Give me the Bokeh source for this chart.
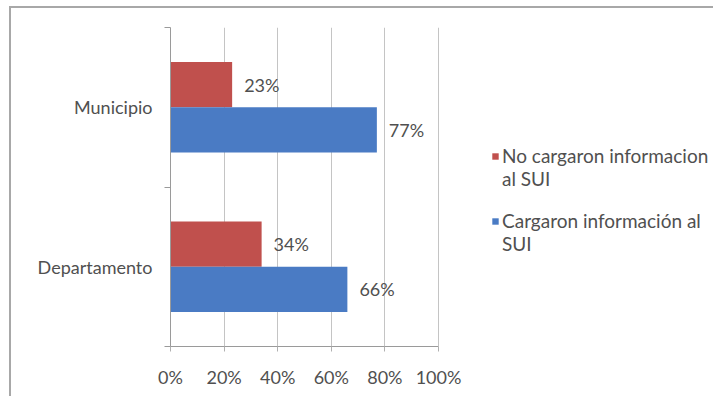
from bokeh.plotting import figure
from bokeh.models import (Range1d, FixedTicker, ColumnDataSource,
                          Legend, LegendItem, NumeralTickFormatter)
from bokeh.transform import dodge
from bokeh.core.properties import value
from bokeh.embed import file_html
from bokeh.resources import INLINE

# ---- data ----
categories = ["Departamento", "Municipio"]
series_names = [["No cargaron informacion", "al SUI"], ["Cargaron información al", "SUI"]]
no_cargaron = [0.34, 0.23]
cargaron = [0.66, 0.77]
x_ticks = [0, 0.2, 0.4, 0.6, 0.8, 1.0]
colors = ["#C0504D", "#4A7BC4"]

FONT = "Lato"
TXT = "#505050"
FS = "18px"

n = len(categories)
centers = [i + 0.5 for i in range(n)]          # category slots on the value scale
source = ColumnDataSource(dict(
    cat=categories,
    yc=centers,
    no=no_cargaron,
    si=cargaron,
    no_lbl=[f"{round(v*100)}%" for v in no_cargaron],
    si_lbl=[f"{round(v*100)}%" for v in cargaron],
))

W, H = 704, 390
LEFT, BOTTOM, TOP = 159, 52, 19
PLOT_W = 268                     # pixel width of the 0..100% value axis
frame_w = W - LEFT
p = figure(width=W, height=H,
           y_range=Range1d(0, n),
           x_range=Range1d(0, frame_w / PLOT_W),   # frame extends right to hold the legend
           output_backend="svg", toolbar_location=None,
           min_border_left=LEFT, min_border_right=0,
           min_border_top=TOP, min_border_bottom=BOTTOM)
p.styles = {"margin-left": "9px", "margin-top": "6px",
            "border-left": "2px solid #a8a8a8", "border-top": "2px solid #a8a8a8"}
p.outline_line_color = None
p.background_fill_color = "white"
p.border_fill_color = "white"

bar_h = 0.284
off = bar_h / 2
r_no = p.hbar(y=dodge("yc", off), left=0, right="no", height=bar_h,
              fill_color=colors[0], line_color=None, source=source)
r_si = p.hbar(y=dodge("yc", -off), left=0, right="si", height=bar_h,
              fill_color=colors[1], line_color=None, source=source)

p.text(x="no", y=dodge("yc", off), text="no_lbl", x_offset=12,
       text_baseline="middle", text_align="left", text_font=value(FONT),
       text_font_size=FS, text_color=TXT, source=source)
p.text(x="si", y=dodge("yc", -off), text="si_lbl", x_offset=12,
       text_baseline="middle", text_align="left", text_font=value(FONT),
       text_font_size=FS, text_color=TXT, source=source)

# x axis
xa = p.xaxis[0]
xa.ticker = FixedTicker(ticks=x_ticks)
xa.formatter = NumeralTickFormatter(format="0%")
xa.bounds = (x_ticks[0], x_ticks[-1])
xa.major_tick_in = 0
xa.major_tick_out = 5
xa.minor_tick_out = 0
xa.minor_tick_in = 0
xa.axis_line_color = "#9a9a9a"
xa.major_tick_line_color = "#b0b0b0"
xa.major_label_text_font = FONT
xa.major_label_text_font_size = FS
xa.major_label_text_color = TXT
xa.major_label_standoff = 14

p.xgrid.ticker = FixedTicker(ticks=x_ticks)
p.xgrid.grid_line_color = "#c4c4c4"
p.ygrid.grid_line_color = None

# y axis: labels at category centres, tick marks on category boundaries
ya = p.yaxis[0]
ya.ticker = FixedTicker(ticks=centers, minor_ticks=[i for i in range(n + 1)])
ya.major_label_overrides = {c: lab for c, lab in zip(centers, categories)}
ya.major_tick_in = 0
ya.major_tick_out = 0
ya.minor_tick_in = 0
ya.minor_tick_out = 6
ya.minor_tick_line_color = "#9a9a9a"
ya.axis_line_color = "#9a9a9a"
ya.major_label_text_font = FONT
ya.major_label_text_font_size = FS
ya.major_label_text_color = TXT
ya.major_label_standoff = 12

# legend: one block per series, marker beside the first line of its wrapped label
def legend_block(lines, renderer, loc):
    items = [LegendItem(label=lines[0], renderers=[renderer])] + \
            [LegendItem(label=t, renderers=[]) for t in lines[1:]]
    lg = Legend(items=items, location=loc, padding=0, margin=0,
                border_line_color=None, background_fill_alpha=0,
                label_text_font=FONT, label_text_font_size="19px",
                label_text_color=TXT, glyph_width=8, glyph_height=8,
                spacing=-10, label_standoff=3)
    p.add_layout(lg, "center")

legend_block(series_names[0], r_no, (321, 156))
legend_block(series_names[1], r_si, (321, 91))

open("out.html", "w").write(file_html(p, INLINE))
